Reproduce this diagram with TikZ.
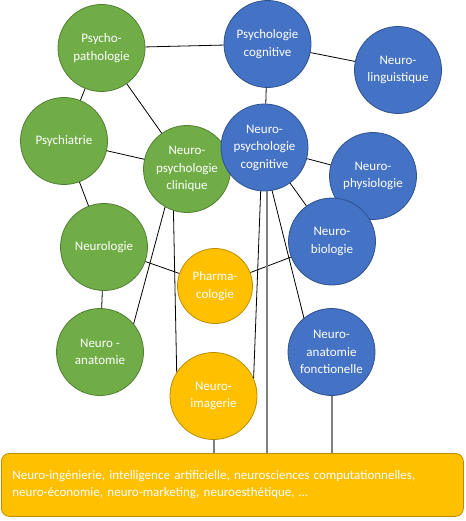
\documentclass[tikz,border=0pt]{standalone}
\usepackage{fontspec}
\setmainfont{Carlito}
\usepackage{xcolor}
\usetikzlibrary{positioning}

\definecolor{vert}{HTML}{70AD47}
\definecolor{vertfonce}{HTML}{507E32}
\definecolor{bleu}{HTML}{4472C4}
\definecolor{bleufonce}{HTML}{2F528F}
\definecolor{ocre}{HTML}{FFC000}
\definecolor{ocrefonce}{HTML}{BC8C00}
\definecolor{gris}{HTML}{7F7F7F}

\begin{document}
\begin{tikzpicture}[
    x=1pt, y=-1pt,
    bulle/.style={
        circle,
        minimum size=87pt,
        inner sep=0pt,
        align=center,
        line width=0.8pt,
        text=white,
        font=\fontsize{13}{17.5}\selectfont
    },
    clinique/.style={bulle, fill=vert, draw=vertfonce},
    cognitif/.style={bulle, fill=bleu, draw=bleufonce},
    outil/.style={bulle, fill=ocre, draw=ocrefonce},
    boite/.style={
        rectangle,
        rounded corners=8pt,
        fill=ocre,
        draw=ocrefonce,
        line width=0.8pt,
        text=white,
        align=left,
        anchor=north west,
        minimum width=462pt,
        minimum height=63pt,
        text width=440pt,
        inner xsep=11pt,
        font=\fontsize{13}{17}\selectfont
    },
    lien/.style={draw=black, line width=0.8pt},
    lienbas/.style={draw=gris, line width=2pt}
]
\useasboundingbox (0,0) rectangle (465,521);

% Disciplines cliniques
\node[clinique] (psychopatho) at (101.5,48) {Psycho-\\pathologie};
\node[clinique] (psychiatrie) at (64,141) {Psychiatrie};
\node[clinique] (npclinique) at (187,169) {Neuro-\\psychologie\\clinique};
\node[clinique] (neurologie) at (104,247) {Neurologie};
\node[clinique] (neuroanat) at (100,352) {Neuro -\\anatomie};

% Disciplines cognitives
\node[cognitif] (psycog) at (267.5,44) {Psychologie\\cognitive};
\node[cognitif] (neuroling) at (398,70) {Neuro-\\linguistique};
\node[cognitif] (npcognitive) at (264.5,147.5) {Neuro-\\psychologie\\cognitive};
\node[cognitif] (neurophysio) at (373,176) {Neuro-\\physiologie};
\node[cognitif] (neurobio) at (332,241.5) {Neuro-\\biologie};
\node[cognitif] (anatfonc) at (331.5,352) {Neuro-\\anatomie\\fonctionelle};

% Outils
\node[outil, minimum size=75pt] (pharma) at (215,286) {Pharma-\\cologie};
\node[outil] (imagerie) at (213.5,396) {Neuro-\\imagerie};
\node[boite] (autres) at (1,453) {Neuro-ingénierie, intelligence artificielle, neurosciences computationnelles,\\neuro-économie, neuro-marketing, neuroesthétique, …};

% Liens
\draw[lien] (psychopatho) -- (psycog);
\draw[lien] (psycog) -- (neuroling);
\draw[lien] (psycog) -- (npcognitive);
\draw[lien] (psychopatho) -- (psychiatrie);
\draw[lien] (psychopatho) -- (npclinique);
\draw[lien] (psychiatrie) -- (npclinique);
\draw[lien] (psychiatrie) -- (neurologie);
\draw[lien] (neurologie) -- (neuroanat);
\draw[lien] (neurologie) -- (pharma);
\draw[lien] (pharma) -- (neurobio);
\draw[lien] (npcognitive) -- (neurophysio);
\draw[lien] (npcognitive) -- (neurobio);
\draw[lien] (npclinique.-120) -- (neuroanat.40);
\draw[lien] (npclinique.-108) -- (imagerie.147);
\draw[lien] (npcognitive.-95) -- (imagerie.24);
\draw[lien] (npcognitive.-80) -- (anatfonc.129);

% Vers la boite
\draw[lienbas] (imagerie.south) -- (imagerie.south |- autres.north);
\draw[lienbas] (npcognitive.-87) -- (npcognitive.-87 |- autres.north);
\draw[lienbas] (anatfonc.south) -- (anatfonc.south |- autres.north);

\end{tikzpicture}
\end{document}
